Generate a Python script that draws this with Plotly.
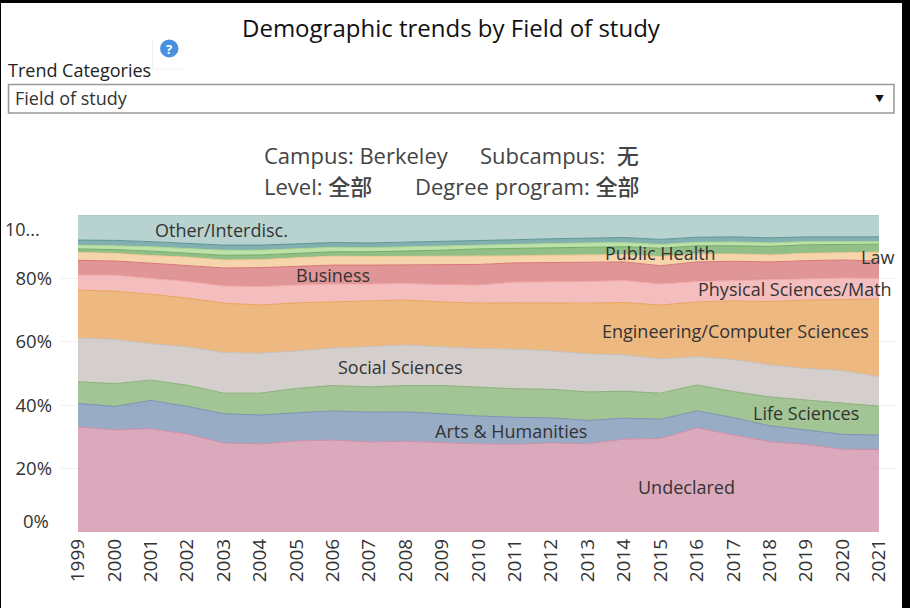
import plotly.graph_objects as go

W, H = 910, 608
FONT = "Open Sans, Noto Sans CJK SC, sans-serif"

years = list(range(1999, 2022))

# Upper edge of each stacked band, in percent of the total
undeclared = [33.2, 32.2, 32.6, 30.9, 28.1, 27.8, 28.7, 29.0, 28.4, 28.6, 28.2, 27.8, 27.7, 28.1, 27.8, 29.3, 29.5, 32.9, 30.6, 28.5, 27.6, 26.1, 26.0]
arts = [40.6, 39.6, 41.5, 39.6, 37.3, 36.9, 37.6, 38.2, 37.8, 37.9, 37.3, 36.6, 36.2, 36.0, 35.2, 35.9, 35.6, 38.2, 36.1, 33.5, 32.2, 30.8, 30.6]
life = [47.4, 46.8, 47.9, 46.3, 43.8, 43.8, 45.3, 46.2, 45.8, 46.2, 46.2, 45.6, 45.2, 45.0, 44.2, 44.4, 43.8, 46.4, 44.3, 42.6, 41.6, 40.7, 39.7]
social = [61.2, 60.8, 59.4, 58.4, 56.6, 56.4, 57.1, 58.0, 58.5, 59.0, 58.4, 57.9, 57.7, 57.1, 56.2, 55.9, 54.6, 55.3, 54.4, 52.7, 51.6, 50.9, 49.0]
engineering = [76.3, 76.0, 75.0, 73.8, 72.2, 71.6, 72.3, 72.6, 72.9, 73.2, 72.6, 72.2, 72.3, 72.2, 72.2, 72.4, 71.6, 72.6, 72.9, 72.7, 73.2, 73.3, 73.5]
physical = [81.0, 81.0, 80.0, 79.0, 77.6, 77.4, 77.9, 78.2, 78.2, 78.4, 78.0, 77.9, 78.8, 78.8, 79.0, 79.3, 78.2, 79.0, 79.3, 79.5, 80.0, 80.1, 80.0]
business = [85.7, 85.5, 84.8, 84.0, 83.3, 83.4, 83.8, 84.2, 84.2, 84.2, 84.4, 84.4, 84.9, 85.0, 85.0, 85.2, 84.0, 85.2, 85.4, 85.2, 85.6, 85.8, 85.5]
law = [88.2, 87.9, 87.2, 86.7, 85.8, 85.9, 86.5, 87.0, 86.9, 86.9, 86.9, 87.0, 87.1, 87.3, 87.4, 87.5, 86.9, 87.7, 87.7, 87.4, 87.9, 88.2, 88.3]
public_health = [89.3, 89.1, 88.6, 88.0, 87.3, 87.4, 88.0, 88.4, 88.4, 88.6, 88.9, 89.3, 89.5, 89.7, 90.0, 90.0, 89.5, 90.3, 90.3, 90.1, 90.6, 90.7, 90.8]
education = [90.5, 90.3, 90.0, 89.4, 88.9, 88.9, 89.4, 89.8, 89.7, 90.0, 90.2, 90.6, 90.8, 91.0, 91.2, 91.3, 90.7, 91.4, 91.5, 91.2, 91.6, 91.6, 91.6]
environment = [92.1, 92.0, 91.6, 91.1, 90.5, 90.5, 91.0, 91.3, 91.2, 91.4, 91.6, 92.0, 92.2, 92.5, 92.8, 92.9, 92.3, 93.0, 93.1, 92.8, 93.1, 93.1, 93.1]
other = [100.0] * 23

band_names = ["Undeclared", "Arts & Humanities", "Life Sciences", "Social Sciences",
              "Engineering/Computer Sciences", "Physical Sciences/Math", "Business", "Law",
              "Public Health", "Education", "Environment", "Other/Interdisc."]
band_tops = [undeclared, arts, life, social, engineering, physical, business, law,
             public_health, education, environment, other]
band_rgb = ["207,140,166", "118,144,179", "132,176,114", "198,191,188",
            "232,162,86", "242,168,168", "214,115,115", "243,199,144",
            "110,170,96", "168,215,142", "88,148,148", "160,196,191"]

y_ticks = [0, 20, 40, 60, 80, 100]
y_tick_text = ["", "20%", "40%", "60%", "80%", ""]

labels = ["Other/Interdisc.", "Public Health", "Business", "Law", "Physical Sciences/Math",
          "Engineering/Computer Sciences", "Social Sciences", "Life Sciences",
          "Arts & Humanities", "Undeclared"]
label_x = [2002.93, 2015.0, 2006.0, 2020.95, 2018.7, 2017.05, 2007.85, 2019.0, 2010.9, 2015.7]
label_y = [95.3, 88.0, 81.0, 86.7, 76.6, 63.4, 52.0, 37.5, 31.9, 14.2]

fig = go.Figure()
for i, (name, top, rgb) in enumerate(zip(band_names, band_tops, band_rgb)):
    fig.add_trace(go.Scatter(
        x=years, y=top, name=name, mode="lines",
        line=dict(color=f"rgba({rgb},0.95)", width=1),
        fill="tozeroy" if i == 0 else "tonexty",
        fillcolor=f"rgba({rgb},0.75)",
        hoverinfo="x+y+name",
    ))

px = lambda v: v / W
py = lambda v: 1 - v / H


def text(x, y, s, size, color="#333333", anchor="center", weight=None):
    font = dict(size=size, color=color, family=FONT)
    if weight:
        font["weight"] = weight
    return dict(x=px(x), y=py(y), xref="paper", yref="paper", text=s, showarrow=False,
                xanchor=anchor, yanchor="middle", font=font)


annotations = [
    text(451, 28, "Demographic trends by Field of study", 24, "#111111", weight=500),
    text(6, 69.5, "Trend Categories", 18, "#222222", "left", weight=500),
    text(13, 98.5, "Field of study", 18, "#333333", "left"),
    text(879, 98, "▼", 9, "#111111"),
    text(169, 48.5, "<b>?</b>", 13, "#ffffff"),
    text(356.5, 155.5, "Campus: Berkeley", 22, "#444444"),
    text(559, 155.5, "Subcampus:  无", 22, "#444444", weight=500),
    text(318, 185.5, "Level: 全部", 22, "#444444", weight=500),
    text(527, 185.5, "Degree program: 全部", 22, "#444444", weight=500),
    text(41.5, 228.5, "10...", 18, "#333333", "right"),
    text(51, 520.5, "0%", 18.5, "#333333", "right"),
]
for s, x, y in zip(labels, label_x, label_y):
    annotations.append(dict(x=x, y=y, xref="x", yref="y", text=s, showarrow=False,
                            font=dict(size=18, color="#333333", family=FONT)))

shapes = [
    dict(type="rect", xref="paper", yref="paper", x0=0, x1=1, y0=py(3), y1=1,
         fillcolor="#000000", line_width=0),
    dict(type="rect", xref="paper", yref="paper", x0=0, x1=px(1), y0=0, y1=1,
         fillcolor="#000000", line_width=0),
    dict(type="rect", xref="paper", yref="paper", x0=px(902), x1=1, y0=0, y1=1,
         fillcolor="#000000", line_width=0),
    dict(type="rect", xref="paper", yref="paper", x0=px(8.5), x1=px(894), y0=py(84.5), y1=py(113),
         fillcolor="#ffffff", line=dict(color="#999999", width=1.5)),
    dict(type="circle", xref="paper", yref="paper", x0=px(160), x1=px(178.5), y0=py(39.5), y1=py(57.5),
         fillcolor="#4a90e2", line_width=0),
    dict(type="line", xref="paper", yref="paper", x0=px(152.5), x1=px(152.5), y0=py(40), y1=py(69),
         line=dict(color="#f2f2f2", width=1)),
    dict(type="line", xref="paper", yref="paper", x0=px(152.5), x1=px(185), y0=py(69), y1=py(69),
         line=dict(color="#f2f2f2", width=1)),
]

fig.update_layout(
    width=W, height=H, margin=dict(l=0, r=0, t=0, b=0),
    paper_bgcolor="#ffffff", plot_bgcolor="#ffffff", showlegend=False,
    font=dict(family=FONT, color="#333333"),
    xaxis=dict(domain=[px(61), px(896)], range=[1998.533, 2021.467],
               tickmode="array", tickvals=years, ticktext=[str(y) for y in years],
               tickangle=-90, tickfont=dict(size=19, color="#333333"),
               showgrid=False, zeroline=False, showline=False, ticks="", ticklabelstandoff=2),
    yaxis=dict(domain=[py(532), py(215)], range=[0, 100],
               tickmode="array", tickvals=y_ticks, ticktext=y_tick_text,
               tickfont=dict(size=18.5, color="#333333"),
               showgrid=True, gridcolor="#f0f0f0", gridwidth=1,
               zeroline=False, showline=False, ticks="", ticklabelstandoff=8),
    annotations=annotations, shapes=shapes,
)

fig.write_html("out.html", config=dict(displayModeBar=False),
               post_script="document.body.style.margin='0';document.body.style.overflow='hidden';")
